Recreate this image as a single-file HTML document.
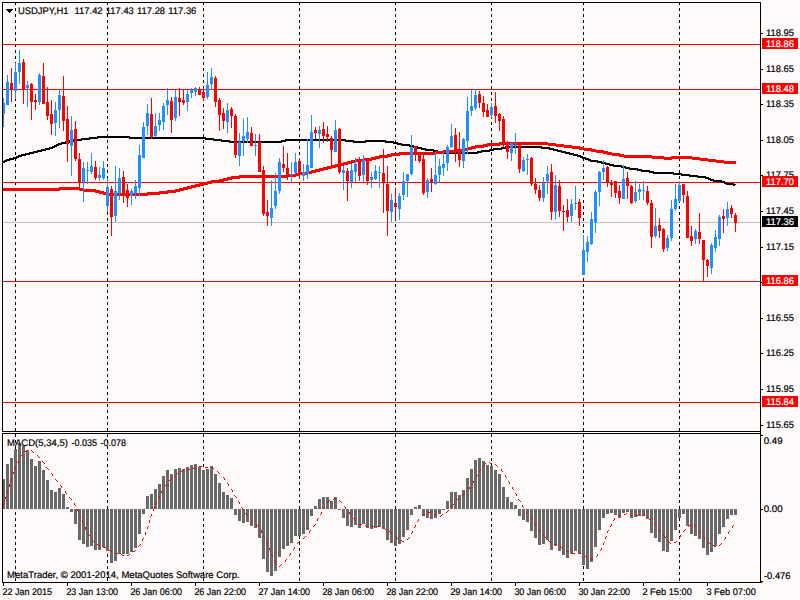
<!DOCTYPE html>
<html lang="en"><head><meta charset="utf-8"><title>USDJPY,H1</title>
<style>html,body{margin:0;padding:0;background:#FFFAFA;overflow:hidden}svg{display:block}text{font-family:"Liberation Sans", Arial, sans-serif;font-size:9.6px;fill:#000;stroke:#000;stroke-width:.2px;text-rendering:geometricPrecision}.w{fill:#fff;stroke:#fff}</style>
</head><body>
<svg width="800" height="600" viewBox="0 0 800 600">
<rect x="0" y="0" width="800" height="600" fill="#FFFAFA"/>
<g shape-rendering="crispEdges">
<rect x="2" y="432" width="759" height="1" fill="#FFFFFF"/>
<line x1="15.5" y1="2" x2="15.5" y2="431" stroke="#000" stroke-width="1" stroke-dasharray="3 3"/>
<line x1="15.5" y1="434" x2="15.5" y2="582" stroke="#000" stroke-width="1" stroke-dasharray="3 3"/>
<line x1="107.5" y1="2" x2="107.5" y2="431" stroke="#000" stroke-width="1" stroke-dasharray="3 3"/>
<line x1="107.5" y1="434" x2="107.5" y2="582" stroke="#000" stroke-width="1" stroke-dasharray="3 3"/>
<line x1="203.5" y1="2" x2="203.5" y2="431" stroke="#000" stroke-width="1" stroke-dasharray="3 3"/>
<line x1="203.5" y1="434" x2="203.5" y2="582" stroke="#000" stroke-width="1" stroke-dasharray="3 3"/>
<line x1="299.5" y1="2" x2="299.5" y2="431" stroke="#000" stroke-width="1" stroke-dasharray="3 3"/>
<line x1="299.5" y1="434" x2="299.5" y2="582" stroke="#000" stroke-width="1" stroke-dasharray="3 3"/>
<line x1="395.5" y1="2" x2="395.5" y2="431" stroke="#000" stroke-width="1" stroke-dasharray="3 3"/>
<line x1="395.5" y1="434" x2="395.5" y2="582" stroke="#000" stroke-width="1" stroke-dasharray="3 3"/>
<line x1="491.5" y1="2" x2="491.5" y2="431" stroke="#000" stroke-width="1" stroke-dasharray="3 3"/>
<line x1="491.5" y1="434" x2="491.5" y2="582" stroke="#000" stroke-width="1" stroke-dasharray="3 3"/>
<line x1="583.5" y1="2" x2="583.5" y2="431" stroke="#000" stroke-width="1" stroke-dasharray="3 3"/>
<line x1="583.5" y1="434" x2="583.5" y2="582" stroke="#000" stroke-width="1" stroke-dasharray="3 3"/>
<line x1="679.5" y1="2" x2="679.5" y2="431" stroke="#000" stroke-width="1" stroke-dasharray="3 3"/>
<line x1="679.5" y1="434" x2="679.5" y2="582" stroke="#000" stroke-width="1" stroke-dasharray="3 3"/>
<rect x="3" y="222" width="757" height="1" fill="#C0C0C0"/>
<rect x="3" y="44" width="757" height="1" fill="#FF0000"/>
<rect x="3" y="89" width="757" height="1" fill="#FF0000"/>
<rect x="3" y="182" width="757" height="1" fill="#FF0000"/>
<rect x="3" y="281" width="757" height="1" fill="#FF0000"/>
<rect x="3" y="402" width="757" height="1" fill="#FF0000"/>
<polyline points="2,162 3.5,162 7.5,160 11.5,159 15.5,158 19.5,156 23.5,155 27.5,154 31.5,153 35.5,152 39.5,151 43.5,150 47.5,149 51.5,148 55.5,146 59.5,144 63.5,143 67.5,142 71.5,141 75.5,140 79.5,140 83.5,139 87.5,139 91.5,138 95.5,138 99.5,137 103.5,137 107.5,137 111.5,137 115.5,137 119.5,137 123.5,137 127.5,137 131.5,138 135.5,138 139.5,138 143.5,138 147.5,138 151.5,138 155.5,138 159.5,138 163.5,138 167.5,138 171.5,138 175.5,138 179.5,138 183.5,138 187.5,138 191.5,138 195.5,138 199.5,138 203.5,138 207.5,139 211.5,139 215.5,140 219.5,140 223.5,141 227.5,141 231.5,142 235.5,142 239.5,142 243.5,142 247.5,142 251.5,142 255.5,142 259.5,142 263.5,142 267.5,142 271.5,142 275.5,142 279.5,142 283.5,141 287.5,140 291.5,140 295.5,140 299.5,140 303.5,140 307.5,140 311.5,140 315.5,140 319.5,140 323.5,140 327.5,140 331.5,140 335.5,140 339.5,140 343.5,140 347.5,141 351.5,141 355.5,142 359.5,142 363.5,142 367.5,141 371.5,141 375.5,141 379.5,141 383.5,141 387.5,142 391.5,142 395.5,143 399.5,144 403.5,145 407.5,145 411.5,146 415.5,147 419.5,148 423.5,149 427.5,150 431.5,150 435.5,151 439.5,152 443.5,153 447.5,153 451.5,153 455.5,153 459.5,153 463.5,153 467.5,153 471.5,153 475.5,153 479.5,152 483.5,151 487.5,151 491.5,150 495.5,149 499.5,149 503.5,148 507.5,147 511.5,147 515.5,147 519.5,147 523.5,147 527.5,147 531.5,147 535.5,147 539.5,147 543.5,148 547.5,148 551.5,149 555.5,150 559.5,151 563.5,152 567.5,153 571.5,154 575.5,155 579.5,156 583.5,158 587.5,159 591.5,161 595.5,161 599.5,162 603.5,163 607.5,164 611.5,165 615.5,166 619.5,166 623.5,167 627.5,168 631.5,169 635.5,169 639.5,170 643.5,171 647.5,171 651.5,172 655.5,173 659.5,173 663.5,173 667.5,173 671.5,173 675.5,174 679.5,174 683.5,175 687.5,175 691.5,176 695.5,176 699.5,177 703.5,177 707.5,178 711.5,180 715.5,181 719.5,181 723.5,182 727.5,184 731.5,184 735.5,185" fill="none" stroke="#000" stroke-width="2" stroke-linejoin="round" />
<polyline points="2,189 3.5,189 7.5,189 11.5,189 15.5,189 19.5,189 23.5,189 27.5,189 31.5,189 35.5,189 39.5,189 43.5,189 47.5,189 51.5,189 55.5,189 59.5,189 63.5,188 67.5,188 71.5,188 75.5,188 79.5,189 83.5,190 87.5,190 91.5,190 95.5,191 99.5,192 103.5,193 107.5,194 111.5,194 115.5,194 119.5,194 123.5,194 127.5,194 131.5,194 135.5,194 139.5,194 143.5,194 147.5,194 151.5,193 155.5,193 159.5,193 163.5,192 167.5,192 171.5,191 175.5,191 179.5,190 183.5,189 187.5,188 191.5,187 195.5,186 199.5,185 203.5,184 207.5,183 211.5,182 215.5,181 219.5,181 223.5,180 227.5,179 231.5,178 235.5,177 239.5,177 243.5,176 247.5,176 251.5,176 255.5,176 259.5,176 263.5,176 267.5,176 271.5,176 275.5,176 279.5,176 283.5,176 287.5,176 291.5,175 295.5,175 299.5,174 303.5,173 307.5,173 311.5,172 315.5,171 319.5,170 323.5,169 327.5,168 331.5,167 335.5,166 339.5,165 343.5,164 347.5,163 351.5,162 355.5,161 359.5,160 363.5,160 367.5,159 371.5,159 375.5,158 379.5,157 383.5,156 387.5,156 391.5,155 395.5,154 399.5,154 403.5,153 407.5,153 411.5,153 415.5,153 419.5,153 423.5,153 427.5,153 431.5,153 435.5,153 439.5,152 443.5,152 447.5,151 451.5,151 455.5,151 459.5,150 463.5,150 467.5,149 471.5,148 475.5,147 479.5,146 483.5,146 487.5,145 491.5,144 495.5,144 499.5,144 503.5,143 507.5,143 511.5,143 515.5,143 519.5,143 523.5,143 527.5,143 531.5,143 535.5,143 539.5,143 543.5,143 547.5,144 551.5,144 555.5,145 559.5,145 563.5,146 567.5,146 571.5,147 575.5,147 579.5,148 583.5,149 587.5,149 591.5,150 595.5,151 599.5,151 603.5,152 607.5,153 611.5,154 615.5,154 619.5,155 623.5,156 627.5,156 631.5,156 635.5,156 639.5,156 643.5,156 647.5,156 651.5,157 655.5,157 659.5,157 663.5,158 667.5,158 671.5,158 675.5,157 679.5,157 683.5,157 687.5,157 691.5,158 695.5,158 699.5,159 703.5,159 707.5,160 711.5,160 715.5,161 719.5,161 723.5,162 727.5,162 731.5,162 735.5,162" fill="none" stroke="#FF0000" stroke-width="3" stroke-linejoin="round" />
<rect x="3" y="98" width="1" height="29" fill="#1E90FF"/>
<rect x="3" y="103" width="2" height="11" fill="#1E90FF"/>
<rect x="7" y="75" width="1" height="30" fill="#1E90FF"/>
<rect x="6" y="82" width="3" height="23" fill="#1E90FF"/>
<rect x="11" y="68" width="1" height="34" fill="#FF0000"/>
<rect x="10" y="83" width="3" height="6" fill="#FF0000"/>
<rect x="15" y="63" width="1" height="36" fill="#1E90FF"/>
<rect x="14" y="72" width="3" height="19" fill="#1E90FF"/>
<rect x="19" y="50" width="1" height="34" fill="#1E90FF"/>
<rect x="18" y="63" width="3" height="9" fill="#1E90FF"/>
<rect x="23" y="59" width="1" height="45" fill="#FF0000"/>
<rect x="22" y="62" width="3" height="27" fill="#FF0000"/>
<rect x="27" y="81" width="1" height="26" fill="#1E90FF"/>
<rect x="26" y="85" width="3" height="3" fill="#1E90FF"/>
<rect x="31" y="83" width="1" height="37" fill="#FF0000"/>
<rect x="30" y="84" width="3" height="18" fill="#FF0000"/>
<rect x="35" y="94" width="1" height="16" fill="#FF0000"/>
<rect x="34" y="100" width="3" height="2" fill="#FF0000"/>
<rect x="39" y="73" width="1" height="32" fill="#1E90FF"/>
<rect x="38" y="75" width="3" height="27" fill="#1E90FF"/>
<rect x="43" y="63" width="1" height="41" fill="#FF0000"/>
<rect x="42" y="76" width="3" height="28" fill="#FF0000"/>
<rect x="47" y="87" width="1" height="33" fill="#FF0000"/>
<rect x="46" y="102" width="3" height="14" fill="#FF0000"/>
<rect x="51" y="100" width="1" height="35" fill="#FF0000"/>
<rect x="50" y="114" width="3" height="10" fill="#FF0000"/>
<rect x="55" y="102" width="1" height="34" fill="#1E90FF"/>
<rect x="54" y="110" width="3" height="13" fill="#1E90FF"/>
<rect x="59" y="90" width="1" height="38" fill="#1E90FF"/>
<rect x="58" y="95" width="3" height="15" fill="#1E90FF"/>
<rect x="63" y="76" width="1" height="55" fill="#FF0000"/>
<rect x="62" y="96" width="3" height="25" fill="#FF0000"/>
<rect x="67" y="106" width="1" height="56" fill="#FF0000"/>
<rect x="66" y="119" width="3" height="25" fill="#FF0000"/>
<rect x="71" y="116" width="1" height="60" fill="#1E90FF"/>
<rect x="70" y="130" width="3" height="16" fill="#1E90FF"/>
<rect x="75" y="121" width="1" height="40" fill="#FF0000"/>
<rect x="74" y="129" width="3" height="30" fill="#FF0000"/>
<rect x="79" y="153" width="1" height="35" fill="#FF0000"/>
<rect x="78" y="159" width="3" height="24" fill="#FF0000"/>
<rect x="83" y="162" width="1" height="40" fill="#1E90FF"/>
<rect x="82" y="168" width="3" height="14" fill="#1E90FF"/>
<rect x="87" y="162" width="1" height="22" fill="#1E90FF"/>
<rect x="86" y="170" width="3" height="1" fill="#1E90FF"/>
<rect x="91" y="153" width="1" height="21" fill="#1E90FF"/>
<rect x="90" y="166" width="3" height="6" fill="#1E90FF"/>
<rect x="95" y="161" width="1" height="19" fill="#FF0000"/>
<rect x="94" y="167" width="3" height="11" fill="#FF0000"/>
<rect x="99" y="167" width="1" height="14" fill="#1E90FF"/>
<rect x="98" y="175" width="3" height="3" fill="#1E90FF"/>
<rect x="103" y="161" width="1" height="19" fill="#1E90FF"/>
<rect x="102" y="168" width="3" height="10" fill="#1E90FF"/>
<rect x="107" y="178" width="1" height="34" fill="#1E90FF"/>
<rect x="106" y="187" width="3" height="19" fill="#1E90FF"/>
<rect x="111" y="186" width="1" height="50" fill="#FF0000"/>
<rect x="110" y="189" width="3" height="28" fill="#FF0000"/>
<rect x="115" y="166" width="1" height="56" fill="#1E90FF"/>
<rect x="114" y="191" width="3" height="25" fill="#1E90FF"/>
<rect x="119" y="168" width="1" height="32" fill="#1E90FF"/>
<rect x="118" y="178" width="3" height="15" fill="#1E90FF"/>
<rect x="123" y="171" width="1" height="32" fill="#FF0000"/>
<rect x="122" y="177" width="3" height="19" fill="#FF0000"/>
<rect x="127" y="184" width="1" height="23" fill="#FF0000"/>
<rect x="126" y="190" width="3" height="8" fill="#FF0000"/>
<rect x="131" y="189" width="1" height="16" fill="#1E90FF"/>
<rect x="130" y="191" width="3" height="5" fill="#1E90FF"/>
<rect x="135" y="180" width="1" height="19" fill="#1E90FF"/>
<rect x="134" y="186" width="3" height="7" fill="#1E90FF"/>
<rect x="139" y="145" width="1" height="51" fill="#1E90FF"/>
<rect x="138" y="155" width="3" height="33" fill="#1E90FF"/>
<rect x="143" y="122" width="1" height="36" fill="#1E90FF"/>
<rect x="142" y="127" width="3" height="31" fill="#1E90FF"/>
<rect x="147" y="104" width="1" height="31" fill="#1E90FF"/>
<rect x="146" y="113" width="3" height="13" fill="#1E90FF"/>
<rect x="151" y="98" width="1" height="41" fill="#FF0000"/>
<rect x="150" y="114" width="3" height="23" fill="#FF0000"/>
<rect x="155" y="113" width="1" height="24" fill="#1E90FF"/>
<rect x="154" y="126" width="3" height="10" fill="#1E90FF"/>
<rect x="159" y="113" width="1" height="18" fill="#1E90FF"/>
<rect x="158" y="120" width="3" height="5" fill="#1E90FF"/>
<rect x="163" y="103" width="1" height="27" fill="#1E90FF"/>
<rect x="162" y="106" width="3" height="16" fill="#1E90FF"/>
<rect x="167" y="88" width="1" height="27" fill="#1E90FF"/>
<rect x="166" y="100" width="3" height="5" fill="#1E90FF"/>
<rect x="171" y="97" width="1" height="36" fill="#FF0000"/>
<rect x="170" y="101" width="3" height="19" fill="#FF0000"/>
<rect x="175" y="90" width="1" height="31" fill="#1E90FF"/>
<rect x="174" y="97" width="3" height="21" fill="#1E90FF"/>
<rect x="179" y="88" width="1" height="28" fill="#FF0000"/>
<rect x="178" y="98" width="3" height="4" fill="#FF0000"/>
<rect x="183" y="89" width="1" height="16" fill="#FF0000"/>
<rect x="182" y="100" width="3" height="3" fill="#FF0000"/>
<rect x="187" y="90" width="1" height="21" fill="#1E90FF"/>
<rect x="186" y="94" width="3" height="8" fill="#1E90FF"/>
<rect x="191" y="88" width="1" height="10" fill="#1E90FF"/>
<rect x="190" y="90" width="3" height="3" fill="#1E90FF"/>
<rect x="195" y="87" width="1" height="9" fill="#1E90FF"/>
<rect x="194" y="88" width="3" height="4" fill="#1E90FF"/>
<rect x="199" y="87" width="1" height="8" fill="#FF0000"/>
<rect x="198" y="89" width="3" height="6" fill="#FF0000"/>
<rect x="203" y="88" width="1" height="13" fill="#FF0000"/>
<rect x="202" y="92" width="3" height="6" fill="#FF0000"/>
<rect x="207" y="72" width="1" height="27" fill="#1E90FF"/>
<rect x="206" y="85" width="3" height="12" fill="#1E90FF"/>
<rect x="211" y="68" width="1" height="22" fill="#1E90FF"/>
<rect x="210" y="77" width="3" height="7" fill="#1E90FF"/>
<rect x="215" y="76" width="1" height="31" fill="#FF0000"/>
<rect x="214" y="78" width="3" height="24" fill="#FF0000"/>
<rect x="219" y="98" width="1" height="33" fill="#FF0000"/>
<rect x="218" y="100" width="3" height="15" fill="#FF0000"/>
<rect x="223" y="108" width="1" height="21" fill="#FF0000"/>
<rect x="222" y="113" width="3" height="8" fill="#FF0000"/>
<rect x="227" y="103" width="1" height="30" fill="#1E90FF"/>
<rect x="226" y="110" width="3" height="12" fill="#1E90FF"/>
<rect x="231" y="107" width="1" height="21" fill="#FF0000"/>
<rect x="230" y="109" width="3" height="7" fill="#FF0000"/>
<rect x="235" y="114" width="1" height="44" fill="#FF0000"/>
<rect x="234" y="116" width="3" height="39" fill="#FF0000"/>
<rect x="239" y="133" width="1" height="33" fill="#1E90FF"/>
<rect x="238" y="142" width="3" height="14" fill="#1E90FF"/>
<rect x="243" y="119" width="1" height="37" fill="#1E90FF"/>
<rect x="242" y="136" width="3" height="5" fill="#1E90FF"/>
<rect x="247" y="117" width="1" height="26" fill="#1E90FF"/>
<rect x="246" y="132" width="3" height="7" fill="#1E90FF"/>
<rect x="251" y="127" width="1" height="19" fill="#FF0000"/>
<rect x="250" y="133" width="3" height="13" fill="#FF0000"/>
<rect x="255" y="134" width="1" height="22" fill="#1E90FF"/>
<rect x="254" y="145" width="3" height="1" fill="#1E90FF"/>
<rect x="259" y="134" width="1" height="38" fill="#FF0000"/>
<rect x="258" y="142" width="3" height="30" fill="#FF0000"/>
<rect x="263" y="166" width="1" height="50" fill="#FF0000"/>
<rect x="262" y="170" width="3" height="44" fill="#FF0000"/>
<rect x="267" y="200" width="1" height="26" fill="#FF0000"/>
<rect x="266" y="212" width="3" height="4" fill="#FF0000"/>
<rect x="271" y="180" width="1" height="46" fill="#1E90FF"/>
<rect x="270" y="208" width="3" height="10" fill="#1E90FF"/>
<rect x="275" y="173" width="1" height="36" fill="#1E90FF"/>
<rect x="274" y="191" width="3" height="15" fill="#1E90FF"/>
<rect x="279" y="158" width="1" height="36" fill="#1E90FF"/>
<rect x="278" y="162" width="3" height="29" fill="#1E90FF"/>
<rect x="283" y="146" width="1" height="26" fill="#FF0000"/>
<rect x="282" y="164" width="3" height="4" fill="#FF0000"/>
<rect x="287" y="153" width="1" height="27" fill="#FF0000"/>
<rect x="286" y="168" width="3" height="8" fill="#FF0000"/>
<rect x="291" y="162" width="1" height="20" fill="#1E90FF"/>
<rect x="290" y="174" width="3" height="1" fill="#1E90FF"/>
<rect x="295" y="153" width="1" height="21" fill="#1E90FF"/>
<rect x="294" y="162" width="3" height="11" fill="#1E90FF"/>
<rect x="299" y="158" width="1" height="21" fill="#FF0000"/>
<rect x="298" y="161" width="3" height="13" fill="#FF0000"/>
<rect x="303" y="164" width="1" height="17" fill="#1E90FF"/>
<rect x="302" y="172" width="3" height="4" fill="#1E90FF"/>
<rect x="307" y="139" width="1" height="40" fill="#1E90FF"/>
<rect x="306" y="165" width="3" height="9" fill="#1E90FF"/>
<rect x="311" y="115" width="1" height="53" fill="#1E90FF"/>
<rect x="310" y="132" width="3" height="36" fill="#1E90FF"/>
<rect x="315" y="127" width="1" height="12" fill="#FF0000"/>
<rect x="314" y="130" width="3" height="3" fill="#FF0000"/>
<rect x="319" y="126" width="1" height="22" fill="#1E90FF"/>
<rect x="318" y="130" width="3" height="4" fill="#1E90FF"/>
<rect x="323" y="122" width="1" height="21" fill="#FF0000"/>
<rect x="322" y="129" width="3" height="7" fill="#FF0000"/>
<rect x="327" y="126" width="1" height="16" fill="#FF0000"/>
<rect x="326" y="134" width="3" height="3" fill="#FF0000"/>
<rect x="331" y="136" width="1" height="29" fill="#FF0000"/>
<rect x="330" y="138" width="3" height="12" fill="#FF0000"/>
<rect x="335" y="120" width="1" height="32" fill="#1E90FF"/>
<rect x="334" y="130" width="3" height="22" fill="#1E90FF"/>
<rect x="339" y="128" width="1" height="46" fill="#FF0000"/>
<rect x="338" y="129" width="3" height="43" fill="#FF0000"/>
<rect x="343" y="166" width="1" height="24" fill="#1E90FF"/>
<rect x="342" y="170" width="3" height="3" fill="#1E90FF"/>
<rect x="347" y="168" width="1" height="33" fill="#FF0000"/>
<rect x="346" y="171" width="3" height="10" fill="#FF0000"/>
<rect x="351" y="164" width="1" height="24" fill="#1E90FF"/>
<rect x="350" y="170" width="3" height="12" fill="#1E90FF"/>
<rect x="355" y="158" width="1" height="24" fill="#1E90FF"/>
<rect x="354" y="164" width="3" height="8" fill="#1E90FF"/>
<rect x="359" y="157" width="1" height="24" fill="#FF0000"/>
<rect x="358" y="159" width="3" height="17" fill="#FF0000"/>
<rect x="363" y="155" width="1" height="27" fill="#1E90FF"/>
<rect x="362" y="160" width="3" height="15" fill="#1E90FF"/>
<rect x="367" y="158" width="1" height="27" fill="#FF0000"/>
<rect x="366" y="159" width="3" height="22" fill="#FF0000"/>
<rect x="371" y="172" width="1" height="16" fill="#1E90FF"/>
<rect x="370" y="177" width="3" height="3" fill="#1E90FF"/>
<rect x="375" y="165" width="1" height="15" fill="#1E90FF"/>
<rect x="374" y="171" width="3" height="8" fill="#1E90FF"/>
<rect x="379" y="166" width="1" height="22" fill="#1E90FF"/>
<rect x="378" y="172" width="3" height="1" fill="#1E90FF"/>
<rect x="383" y="149" width="1" height="64" fill="#FF0000"/>
<rect x="382" y="173" width="3" height="10" fill="#FF0000"/>
<rect x="387" y="166" width="1" height="70" fill="#FF0000"/>
<rect x="386" y="184" width="3" height="27" fill="#FF0000"/>
<rect x="391" y="194" width="1" height="28" fill="#1E90FF"/>
<rect x="390" y="200" width="3" height="12" fill="#1E90FF"/>
<rect x="395" y="189" width="1" height="31" fill="#FF0000"/>
<rect x="394" y="203" width="3" height="4" fill="#FF0000"/>
<rect x="399" y="193" width="1" height="27" fill="#1E90FF"/>
<rect x="398" y="196" width="3" height="13" fill="#1E90FF"/>
<rect x="403" y="172" width="1" height="28" fill="#1E90FF"/>
<rect x="402" y="181" width="3" height="14" fill="#1E90FF"/>
<rect x="407" y="174" width="1" height="23" fill="#1E90FF"/>
<rect x="406" y="174" width="3" height="7" fill="#1E90FF"/>
<rect x="411" y="135" width="1" height="40" fill="#1E90FF"/>
<rect x="410" y="147" width="3" height="27" fill="#1E90FF"/>
<rect x="415" y="146" width="1" height="15" fill="#FF0000"/>
<rect x="414" y="146" width="3" height="8" fill="#FF0000"/>
<rect x="419" y="154" width="1" height="9" fill="#FF0000"/>
<rect x="418" y="155" width="3" height="6" fill="#FF0000"/>
<rect x="423" y="155" width="1" height="40" fill="#FF0000"/>
<rect x="422" y="159" width="3" height="34" fill="#FF0000"/>
<rect x="427" y="178" width="1" height="20" fill="#1E90FF"/>
<rect x="426" y="180" width="3" height="12" fill="#1E90FF"/>
<rect x="431" y="168" width="1" height="24" fill="#FF0000"/>
<rect x="430" y="179" width="3" height="3" fill="#FF0000"/>
<rect x="435" y="152" width="1" height="33" fill="#1E90FF"/>
<rect x="434" y="175" width="3" height="9" fill="#1E90FF"/>
<rect x="439" y="159" width="1" height="23" fill="#1E90FF"/>
<rect x="438" y="166" width="3" height="9" fill="#1E90FF"/>
<rect x="443" y="152" width="1" height="24" fill="#1E90FF"/>
<rect x="442" y="164" width="3" height="4" fill="#1E90FF"/>
<rect x="447" y="145" width="1" height="26" fill="#1E90FF"/>
<rect x="446" y="147" width="3" height="16" fill="#1E90FF"/>
<rect x="451" y="124" width="1" height="24" fill="#1E90FF"/>
<rect x="450" y="136" width="3" height="11" fill="#1E90FF"/>
<rect x="455" y="128" width="1" height="34" fill="#FF0000"/>
<rect x="454" y="135" width="3" height="16" fill="#FF0000"/>
<rect x="459" y="132" width="1" height="35" fill="#FF0000"/>
<rect x="458" y="152" width="3" height="8" fill="#FF0000"/>
<rect x="463" y="138" width="1" height="30" fill="#1E90FF"/>
<rect x="462" y="139" width="3" height="22" fill="#1E90FF"/>
<rect x="467" y="97" width="1" height="57" fill="#1E90FF"/>
<rect x="466" y="111" width="3" height="30" fill="#1E90FF"/>
<rect x="471" y="90" width="1" height="26" fill="#1E90FF"/>
<rect x="470" y="106" width="3" height="5" fill="#1E90FF"/>
<rect x="475" y="89" width="1" height="21" fill="#1E90FF"/>
<rect x="474" y="95" width="3" height="13" fill="#1E90FF"/>
<rect x="479" y="91" width="1" height="17" fill="#FF0000"/>
<rect x="478" y="94" width="3" height="9" fill="#FF0000"/>
<rect x="483" y="96" width="1" height="21" fill="#FF0000"/>
<rect x="482" y="103" width="3" height="9" fill="#FF0000"/>
<rect x="487" y="104" width="1" height="13" fill="#FF0000"/>
<rect x="486" y="110" width="3" height="7" fill="#FF0000"/>
<rect x="491" y="103" width="1" height="15" fill="#1E90FF"/>
<rect x="490" y="107" width="3" height="8" fill="#1E90FF"/>
<rect x="495" y="92" width="1" height="31" fill="#FF0000"/>
<rect x="494" y="106" width="3" height="10" fill="#FF0000"/>
<rect x="499" y="113" width="1" height="18" fill="#FF0000"/>
<rect x="498" y="114" width="3" height="7" fill="#FF0000"/>
<rect x="503" y="116" width="1" height="31" fill="#FF0000"/>
<rect x="502" y="119" width="3" height="23" fill="#FF0000"/>
<rect x="507" y="141" width="1" height="18" fill="#FF0000"/>
<rect x="506" y="142" width="3" height="10" fill="#FF0000"/>
<rect x="511" y="143" width="1" height="18" fill="#1E90FF"/>
<rect x="510" y="143" width="3" height="10" fill="#1E90FF"/>
<rect x="515" y="133" width="1" height="21" fill="#1E90FF"/>
<rect x="514" y="145" width="3" height="1" fill="#1E90FF"/>
<rect x="519" y="142" width="1" height="31" fill="#FF0000"/>
<rect x="518" y="143" width="3" height="26" fill="#FF0000"/>
<rect x="523" y="157" width="1" height="15" fill="#1E90FF"/>
<rect x="522" y="160" width="3" height="11" fill="#1E90FF"/>
<rect x="527" y="154" width="1" height="21" fill="#1E90FF"/>
<rect x="526" y="159" width="3" height="1" fill="#1E90FF"/>
<rect x="531" y="157" width="1" height="29" fill="#FF0000"/>
<rect x="530" y="158" width="3" height="26" fill="#FF0000"/>
<rect x="535" y="178" width="1" height="16" fill="#FF0000"/>
<rect x="534" y="184" width="3" height="6" fill="#FF0000"/>
<rect x="539" y="185" width="1" height="16" fill="#FF0000"/>
<rect x="538" y="190" width="3" height="8" fill="#FF0000"/>
<rect x="543" y="177" width="1" height="25" fill="#1E90FF"/>
<rect x="542" y="183" width="3" height="15" fill="#1E90FF"/>
<rect x="547" y="166" width="1" height="28" fill="#1E90FF"/>
<rect x="546" y="174" width="3" height="7" fill="#1E90FF"/>
<rect x="551" y="164" width="1" height="56" fill="#FF0000"/>
<rect x="550" y="172" width="3" height="40" fill="#FF0000"/>
<rect x="555" y="175" width="1" height="45" fill="#1E90FF"/>
<rect x="554" y="185" width="3" height="27" fill="#1E90FF"/>
<rect x="559" y="180" width="1" height="37" fill="#FF0000"/>
<rect x="558" y="186" width="3" height="25" fill="#FF0000"/>
<rect x="563" y="205" width="1" height="26" fill="#FF0000"/>
<rect x="562" y="211" width="3" height="1" fill="#FF0000"/>
<rect x="567" y="199" width="1" height="23" fill="#FF0000"/>
<rect x="566" y="210" width="3" height="7" fill="#FF0000"/>
<rect x="571" y="199" width="1" height="23" fill="#1E90FF"/>
<rect x="570" y="204" width="3" height="12" fill="#1E90FF"/>
<rect x="575" y="186" width="1" height="24" fill="#1E90FF"/>
<rect x="574" y="203" width="3" height="1" fill="#1E90FF"/>
<rect x="579" y="199" width="1" height="27" fill="#FF0000"/>
<rect x="578" y="202" width="3" height="16" fill="#FF0000"/>
<rect x="583" y="235" width="1" height="40" fill="#1E90FF"/>
<rect x="582" y="250" width="3" height="25" fill="#1E90FF"/>
<rect x="587" y="236" width="1" height="26" fill="#1E90FF"/>
<rect x="586" y="242" width="3" height="10" fill="#1E90FF"/>
<rect x="591" y="212" width="1" height="33" fill="#1E90FF"/>
<rect x="590" y="219" width="3" height="25" fill="#1E90FF"/>
<rect x="595" y="190" width="1" height="43" fill="#1E90FF"/>
<rect x="594" y="192" width="3" height="30" fill="#1E90FF"/>
<rect x="599" y="171" width="1" height="35" fill="#1E90FF"/>
<rect x="598" y="172" width="3" height="20" fill="#1E90FF"/>
<rect x="603" y="160" width="1" height="20" fill="#1E90FF"/>
<rect x="602" y="168" width="3" height="4" fill="#1E90FF"/>
<rect x="607" y="166" width="1" height="21" fill="#FF0000"/>
<rect x="606" y="167" width="3" height="15" fill="#FF0000"/>
<rect x="611" y="180" width="1" height="17" fill="#FF0000"/>
<rect x="610" y="182" width="3" height="3" fill="#FF0000"/>
<rect x="615" y="181" width="1" height="17" fill="#FF0000"/>
<rect x="614" y="181" width="3" height="12" fill="#FF0000"/>
<rect x="619" y="185" width="1" height="19" fill="#FF0000"/>
<rect x="618" y="191" width="3" height="7" fill="#FF0000"/>
<rect x="623" y="165" width="1" height="34" fill="#1E90FF"/>
<rect x="622" y="179" width="3" height="20" fill="#1E90FF"/>
<rect x="627" y="172" width="1" height="27" fill="#FF0000"/>
<rect x="626" y="178" width="3" height="8" fill="#FF0000"/>
<rect x="631" y="185" width="1" height="19" fill="#FF0000"/>
<rect x="630" y="186" width="3" height="17" fill="#FF0000"/>
<rect x="635" y="181" width="1" height="22" fill="#1E90FF"/>
<rect x="634" y="192" width="3" height="9" fill="#1E90FF"/>
<rect x="639" y="184" width="1" height="16" fill="#1E90FF"/>
<rect x="638" y="189" width="3" height="3" fill="#1E90FF"/>
<rect x="643" y="181" width="1" height="19" fill="#1E90FF"/>
<rect x="642" y="190" width="3" height="1" fill="#1E90FF"/>
<rect x="647" y="186" width="1" height="19" fill="#FF0000"/>
<rect x="646" y="191" width="3" height="12" fill="#FF0000"/>
<rect x="651" y="200" width="1" height="48" fill="#FF0000"/>
<rect x="650" y="203" width="3" height="34" fill="#FF0000"/>
<rect x="655" y="208" width="1" height="30" fill="#1E90FF"/>
<rect x="654" y="226" width="3" height="10" fill="#1E90FF"/>
<rect x="659" y="218" width="1" height="20" fill="#FF0000"/>
<rect x="658" y="225" width="3" height="6" fill="#FF0000"/>
<rect x="663" y="228" width="1" height="24" fill="#FF0000"/>
<rect x="662" y="229" width="3" height="20" fill="#FF0000"/>
<rect x="667" y="235" width="1" height="16" fill="#1E90FF"/>
<rect x="666" y="238" width="3" height="10" fill="#1E90FF"/>
<rect x="671" y="200" width="1" height="41" fill="#1E90FF"/>
<rect x="670" y="209" width="3" height="29" fill="#1E90FF"/>
<rect x="675" y="184" width="1" height="27" fill="#1E90FF"/>
<rect x="674" y="199" width="3" height="10" fill="#1E90FF"/>
<rect x="679" y="181" width="1" height="21" fill="#1E90FF"/>
<rect x="678" y="185" width="3" height="16" fill="#1E90FF"/>
<rect x="683" y="184" width="1" height="19" fill="#FF0000"/>
<rect x="682" y="184" width="3" height="11" fill="#FF0000"/>
<rect x="687" y="191" width="1" height="47" fill="#FF0000"/>
<rect x="686" y="196" width="3" height="42" fill="#FF0000"/>
<rect x="691" y="226" width="1" height="20" fill="#FF0000"/>
<rect x="690" y="236" width="3" height="5" fill="#FF0000"/>
<rect x="695" y="229" width="1" height="15" fill="#1E90FF"/>
<rect x="694" y="231" width="3" height="8" fill="#1E90FF"/>
<rect x="699" y="213" width="1" height="31" fill="#FF0000"/>
<rect x="698" y="232" width="3" height="7" fill="#FF0000"/>
<rect x="703" y="240" width="1" height="42" fill="#FF0000"/>
<rect x="702" y="240" width="3" height="20" fill="#FF0000"/>
<rect x="707" y="259" width="1" height="18" fill="#FF0000"/>
<rect x="706" y="260" width="3" height="6" fill="#FF0000"/>
<rect x="711" y="243" width="1" height="31" fill="#1E90FF"/>
<rect x="710" y="245" width="3" height="23" fill="#1E90FF"/>
<rect x="715" y="230" width="1" height="22" fill="#1E90FF"/>
<rect x="714" y="237" width="3" height="11" fill="#1E90FF"/>
<rect x="719" y="215" width="1" height="31" fill="#1E90FF"/>
<rect x="718" y="217" width="3" height="22" fill="#1E90FF"/>
<rect x="723" y="209" width="1" height="24" fill="#FF0000"/>
<rect x="722" y="216" width="3" height="3" fill="#FF0000"/>
<rect x="727" y="202" width="1" height="24" fill="#1E90FF"/>
<rect x="726" y="209" width="3" height="9" fill="#1E90FF"/>
<rect x="731" y="205" width="1" height="13" fill="#FF0000"/>
<rect x="730" y="208" width="3" height="6" fill="#FF0000"/>
<rect x="735" y="213" width="1" height="19" fill="#FF0000"/>
<rect x="734" y="215" width="3" height="8" fill="#FF0000"/>
</g>
<g shape-rendering="crispEdges">
<rect x="3" y="479" width="2" height="30" fill="#696969"/>
<rect x="6" y="464" width="3" height="45" fill="#696969"/>
<rect x="10" y="458" width="3" height="51" fill="#696969"/>
<rect x="14" y="449" width="3" height="60" fill="#696969"/>
<rect x="18" y="444" width="3" height="65" fill="#696969"/>
<rect x="22" y="446" width="3" height="63" fill="#696969"/>
<rect x="26" y="450" width="3" height="59" fill="#696969"/>
<rect x="30" y="459" width="3" height="50" fill="#696969"/>
<rect x="34" y="466" width="3" height="43" fill="#696969"/>
<rect x="38" y="461" width="3" height="48" fill="#696969"/>
<rect x="42" y="470" width="3" height="39" fill="#696969"/>
<rect x="46" y="480" width="3" height="29" fill="#696969"/>
<rect x="50" y="490" width="3" height="19" fill="#696969"/>
<rect x="54" y="492" width="3" height="17" fill="#696969"/>
<rect x="58" y="488" width="3" height="21" fill="#696969"/>
<rect x="62" y="494" width="3" height="15" fill="#696969"/>
<rect x="66" y="507" width="3" height="2" fill="#696969"/>
<rect x="70" y="509" width="3" height="3" fill="#696969"/>
<rect x="74" y="509" width="3" height="15" fill="#696969"/>
<rect x="78" y="509" width="3" height="31" fill="#696969"/>
<rect x="82" y="509" width="3" height="35" fill="#696969"/>
<rect x="86" y="509" width="3" height="38" fill="#696969"/>
<rect x="90" y="509" width="3" height="37" fill="#696969"/>
<rect x="94" y="509" width="3" height="41" fill="#696969"/>
<rect x="98" y="509" width="3" height="41" fill="#696969"/>
<rect x="102" y="509" width="3" height="38" fill="#696969"/>
<rect x="106" y="509" width="3" height="42" fill="#696969"/>
<rect x="110" y="509" width="3" height="54" fill="#696969"/>
<rect x="114" y="509" width="3" height="52" fill="#696969"/>
<rect x="118" y="509" width="3" height="45" fill="#696969"/>
<rect x="122" y="509" width="3" height="45" fill="#696969"/>
<rect x="126" y="509" width="3" height="45" fill="#696969"/>
<rect x="130" y="509" width="3" height="43" fill="#696969"/>
<rect x="134" y="509" width="3" height="39" fill="#696969"/>
<rect x="138" y="509" width="3" height="25" fill="#696969"/>
<rect x="142" y="509" width="3" height="5" fill="#696969"/>
<rect x="146" y="496" width="3" height="13" fill="#696969"/>
<rect x="150" y="494" width="3" height="15" fill="#696969"/>
<rect x="154" y="489" width="3" height="20" fill="#696969"/>
<rect x="158" y="484" width="3" height="25" fill="#696969"/>
<rect x="162" y="476" width="3" height="33" fill="#696969"/>
<rect x="166" y="470" width="3" height="39" fill="#696969"/>
<rect x="170" y="474" width="3" height="35" fill="#696969"/>
<rect x="174" y="469" width="3" height="40" fill="#696969"/>
<rect x="178" y="468" width="3" height="41" fill="#696969"/>
<rect x="182" y="469" width="3" height="40" fill="#696969"/>
<rect x="186" y="467" width="3" height="42" fill="#696969"/>
<rect x="190" y="465" width="3" height="44" fill="#696969"/>
<rect x="194" y="464" width="3" height="45" fill="#696969"/>
<rect x="198" y="467" width="3" height="42" fill="#696969"/>
<rect x="202" y="470" width="3" height="39" fill="#696969"/>
<rect x="206" y="469" width="3" height="40" fill="#696969"/>
<rect x="210" y="466" width="3" height="43" fill="#696969"/>
<rect x="214" y="474" width="3" height="35" fill="#696969"/>
<rect x="218" y="483" width="3" height="26" fill="#696969"/>
<rect x="222" y="492" width="3" height="17" fill="#696969"/>
<rect x="226" y="495" width="3" height="14" fill="#696969"/>
<rect x="230" y="498" width="3" height="11" fill="#696969"/>
<rect x="234" y="509" width="3" height="6" fill="#696969"/>
<rect x="238" y="509" width="3" height="12" fill="#696969"/>
<rect x="242" y="509" width="3" height="14" fill="#696969"/>
<rect x="246" y="509" width="3" height="13" fill="#696969"/>
<rect x="250" y="509" width="3" height="17" fill="#696969"/>
<rect x="254" y="509" width="3" height="19" fill="#696969"/>
<rect x="258" y="509" width="3" height="29" fill="#696969"/>
<rect x="262" y="509" width="3" height="50" fill="#696969"/>
<rect x="266" y="509" width="3" height="63" fill="#696969"/>
<rect x="270" y="509" width="3" height="67" fill="#696969"/>
<rect x="274" y="509" width="3" height="62" fill="#696969"/>
<rect x="278" y="509" width="3" height="48" fill="#696969"/>
<rect x="282" y="509" width="3" height="40" fill="#696969"/>
<rect x="286" y="509" width="3" height="37" fill="#696969"/>
<rect x="290" y="509" width="3" height="34" fill="#696969"/>
<rect x="294" y="509" width="3" height="27" fill="#696969"/>
<rect x="298" y="509" width="3" height="27" fill="#696969"/>
<rect x="302" y="509" width="3" height="25" fill="#696969"/>
<rect x="306" y="509" width="3" height="21" fill="#696969"/>
<rect x="310" y="509" width="3" height="7" fill="#696969"/>
<rect x="314" y="506" width="3" height="3" fill="#696969"/>
<rect x="318" y="499" width="3" height="10" fill="#696969"/>
<rect x="322" y="497" width="3" height="12" fill="#696969"/>
<rect x="326" y="497" width="3" height="12" fill="#696969"/>
<rect x="330" y="501" width="3" height="8" fill="#696969"/>
<rect x="334" y="497" width="3" height="12" fill="#696969"/>
<rect x="338" y="509" width="3" height="1" fill="#696969"/>
<rect x="342" y="509" width="3" height="9" fill="#696969"/>
<rect x="346" y="509" width="3" height="17" fill="#696969"/>
<rect x="350" y="509" width="3" height="18" fill="#696969"/>
<rect x="354" y="509" width="3" height="16" fill="#696969"/>
<rect x="358" y="509" width="3" height="19" fill="#696969"/>
<rect x="362" y="509" width="3" height="15" fill="#696969"/>
<rect x="366" y="509" width="3" height="19" fill="#696969"/>
<rect x="370" y="509" width="3" height="20" fill="#696969"/>
<rect x="374" y="509" width="3" height="19" fill="#696969"/>
<rect x="378" y="509" width="3" height="18" fill="#696969"/>
<rect x="382" y="509" width="3" height="20" fill="#696969"/>
<rect x="386" y="509" width="3" height="31" fill="#696969"/>
<rect x="390" y="509" width="3" height="34" fill="#696969"/>
<rect x="394" y="509" width="3" height="37" fill="#696969"/>
<rect x="398" y="509" width="3" height="35" fill="#696969"/>
<rect x="402" y="509" width="3" height="28" fill="#696969"/>
<rect x="406" y="509" width="3" height="21" fill="#696969"/>
<rect x="410" y="509" width="3" height="6" fill="#696969"/>
<rect x="414" y="507" width="3" height="2" fill="#696969"/>
<rect x="418" y="505" width="3" height="4" fill="#696969"/>
<rect x="422" y="509" width="3" height="7" fill="#696969"/>
<rect x="426" y="509" width="3" height="9" fill="#696969"/>
<rect x="430" y="509" width="3" height="10" fill="#696969"/>
<rect x="434" y="509" width="3" height="9" fill="#696969"/>
<rect x="438" y="509" width="3" height="5" fill="#696969"/>
<rect x="442" y="509" width="3" height="1" fill="#696969"/>
<rect x="446" y="501" width="3" height="8" fill="#696969"/>
<rect x="450" y="492" width="3" height="17" fill="#696969"/>
<rect x="454" y="492" width="3" height="17" fill="#696969"/>
<rect x="458" y="495" width="3" height="14" fill="#696969"/>
<rect x="462" y="490" width="3" height="19" fill="#696969"/>
<rect x="466" y="478" width="3" height="31" fill="#696969"/>
<rect x="470" y="469" width="3" height="40" fill="#696969"/>
<rect x="474" y="460" width="3" height="49" fill="#696969"/>
<rect x="478" y="458" width="3" height="51" fill="#696969"/>
<rect x="482" y="461" width="3" height="48" fill="#696969"/>
<rect x="486" y="465" width="3" height="44" fill="#696969"/>
<rect x="490" y="466" width="3" height="43" fill="#696969"/>
<rect x="494" y="470" width="3" height="39" fill="#696969"/>
<rect x="498" y="474" width="3" height="35" fill="#696969"/>
<rect x="502" y="487" width="3" height="22" fill="#696969"/>
<rect x="506" y="497" width="3" height="12" fill="#696969"/>
<rect x="510" y="502" width="3" height="7" fill="#696969"/>
<rect x="514" y="505" width="3" height="4" fill="#696969"/>
<rect x="518" y="509" width="3" height="7" fill="#696969"/>
<rect x="522" y="509" width="3" height="11" fill="#696969"/>
<rect x="526" y="509" width="3" height="13" fill="#696969"/>
<rect x="530" y="509" width="3" height="22" fill="#696969"/>
<rect x="534" y="509" width="3" height="29" fill="#696969"/>
<rect x="538" y="509" width="3" height="36" fill="#696969"/>
<rect x="542" y="509" width="3" height="35" fill="#696969"/>
<rect x="546" y="509" width="3" height="31" fill="#696969"/>
<rect x="550" y="509" width="3" height="41" fill="#696969"/>
<rect x="554" y="509" width="3" height="37" fill="#696969"/>
<rect x="558" y="509" width="3" height="42" fill="#696969"/>
<rect x="562" y="509" width="3" height="46" fill="#696969"/>
<rect x="566" y="509" width="3" height="49" fill="#696969"/>
<rect x="570" y="509" width="3" height="45" fill="#696969"/>
<rect x="574" y="509" width="3" height="42" fill="#696969"/>
<rect x="578" y="509" width="3" height="44" fill="#696969"/>
<rect x="582" y="509" width="3" height="56" fill="#696969"/>
<rect x="586" y="509" width="3" height="60" fill="#696969"/>
<rect x="590" y="509" width="3" height="53" fill="#696969"/>
<rect x="594" y="509" width="3" height="38" fill="#696969"/>
<rect x="598" y="509" width="3" height="21" fill="#696969"/>
<rect x="602" y="509" width="3" height="9" fill="#696969"/>
<rect x="606" y="509" width="3" height="5" fill="#696969"/>
<rect x="610" y="509" width="3" height="4" fill="#696969"/>
<rect x="614" y="509" width="3" height="6" fill="#696969"/>
<rect x="618" y="509" width="3" height="9" fill="#696969"/>
<rect x="622" y="509" width="3" height="4" fill="#696969"/>
<rect x="626" y="509" width="3" height="3" fill="#696969"/>
<rect x="630" y="509" width="3" height="9" fill="#696969"/>
<rect x="634" y="509" width="3" height="8" fill="#696969"/>
<rect x="638" y="509" width="3" height="7" fill="#696969"/>
<rect x="642" y="509" width="3" height="6" fill="#696969"/>
<rect x="646" y="509" width="3" height="10" fill="#696969"/>
<rect x="650" y="509" width="3" height="24" fill="#696969"/>
<rect x="654" y="509" width="3" height="29" fill="#696969"/>
<rect x="658" y="509" width="3" height="33" fill="#696969"/>
<rect x="662" y="509" width="3" height="42" fill="#696969"/>
<rect x="666" y="509" width="3" height="43" fill="#696969"/>
<rect x="670" y="509" width="3" height="32" fill="#696969"/>
<rect x="674" y="509" width="3" height="21" fill="#696969"/>
<rect x="678" y="509" width="3" height="9" fill="#696969"/>
<rect x="682" y="509" width="3" height="5" fill="#696969"/>
<rect x="686" y="509" width="3" height="17" fill="#696969"/>
<rect x="690" y="509" width="3" height="25" fill="#696969"/>
<rect x="694" y="509" width="3" height="27" fill="#696969"/>
<rect x="698" y="509" width="3" height="30" fill="#696969"/>
<rect x="702" y="509" width="3" height="39" fill="#696969"/>
<rect x="706" y="509" width="3" height="46" fill="#696969"/>
<rect x="710" y="509" width="3" height="43" fill="#696969"/>
<rect x="714" y="509" width="3" height="37" fill="#696969"/>
<rect x="718" y="509" width="3" height="25" fill="#696969"/>
<rect x="722" y="509" width="3" height="18" fill="#696969"/>
<rect x="726" y="509" width="3" height="10" fill="#696969"/>
<rect x="730" y="509" width="3" height="6" fill="#696969"/>
<rect x="734" y="509" width="3" height="6" fill="#696969"/>
</g>
<path d="M3 504h1v1h-1zM3 503h1v1h-1zM4 502h1v1h-1zM5 498h1v1h-1zM5 497h1v1h-1zM6 496h1v1h-1zM7 492h1v1h-1zM7 491h1v1h-1zM8 490h1v1h-1zM9 486h1v1h-1zM9 485h1v1h-1zM9 484h1v1h-1zM10 480h1v1h-1zM11 479h1v1h-1zM11 478h1v1h-1zM12 474h1v1h-1zM13 473h1v1h-1zM13 472h1v1h-1zM15 468h1v1h-1zM15 467h1v1h-1zM15 466h1v1h-1zM17 462h1v1h-1zM18 461h1v1h-1zM18 460h1v1h-1zM20 456h1v1h-1zM21 455h1v1h-1zM22 454h1v1h-1zM25 451h1v1h-1zM26 450h1v1h-1zM27 450h1v1h-1zM31 450h1v1h-1zM32 451h1v1h-1zM33 452h1v1h-1zM37 455h1v1h-1zM38 456h1v1h-1zM39 457h1v1h-1zM42 461h1v1h-1zM43 462h1v1h-1zM44 463h1v1h-1zM46 467h1v1h-1zM47 468h1v1h-1zM48 469h1v1h-1zM51 473h1v1h-1zM52 474h1v1h-1zM52 475h1v1h-1zM55 479h1v1h-1zM56 480h1v1h-1zM57 481h1v1h-1zM60 485h1v1h-1zM61 486h1v1h-1zM61 487h1v1h-1zM65 491h1v1h-1zM65 492h1v1h-1zM66 493h1v1h-1zM69 497h1v1h-1zM70 498h1v1h-1zM71 499h1v1h-1zM74 503h1v1h-1zM74 504h1v1h-1zM75 505h1v1h-1zM77 509h1v1h-1zM77 510h1v1h-1zM78 511h1v1h-1zM79 515h1v1h-1zM80 516h1v1h-1zM80 517h1v1h-1zM82 521h1v1h-1zM82 522h1v1h-1zM83 523h1v1h-1zM85 527h1v1h-1zM85 528h1v1h-1zM85 529h1v1h-1zM88 533h1v1h-1zM88 534h1v1h-1zM89 535h1v1h-1zM91 539h1v1h-1zM92 540h1v1h-1zM93 541h1v1h-1zM97 544h1v1h-1zM98 545h1v1h-1zM99 545h1v1h-1zM103 547h1v1h-1zM104 547h1v1h-1zM105 547h1v1h-1zM109 550h1v1h-1zM110 550h1v1h-1zM111 551h1v1h-1zM115 553h1v1h-1zM116 553h1v1h-1zM117 553h1v1h-1zM121 554h1v1h-1zM122 555h1v1h-1zM123 555h1v1h-1zM127 555h1v1h-1zM128 555h1v1h-1zM129 554h1v1h-1zM133 551h1v1h-1zM134 551h1v1h-1zM135 550h1v1h-1zM138 546h1v1h-1zM139 545h1v1h-1zM140 544h1v1h-1zM142 540h1v1h-1zM142 539h1v1h-1zM143 538h1v1h-1zM145 534h1v1h-1zM145 533h1v1h-1zM145 532h1v1h-1zM147 528h1v1h-1zM147 527h1v1h-1zM148 526h1v1h-1zM149 522h1v1h-1zM149 521h1v1h-1zM149 520h1v1h-1zM150 516h1v1h-1zM151 515h1v1h-1zM151 514h1v1h-1zM153 510h1v1h-1zM153 509h1v1h-1zM154 508h1v1h-1zM155 504h1v1h-1zM156 503h1v1h-1zM156 502h1v1h-1zM158 498h1v1h-1zM159 497h1v1h-1zM159 496h1v1h-1zM161 492h1v1h-1zM161 491h1v1h-1zM162 490h1v1h-1zM164 486h1v1h-1zM165 485h1v1h-1zM166 484h1v1h-1zM169 480h1v1h-1zM170 479h1v1h-1zM171 478h1v1h-1zM175 475h1v1h-1zM176 474h1v1h-1zM177 473h1v1h-1zM181 471h1v1h-1zM182 470h1v1h-1zM183 470h1v1h-1zM187 469h1v1h-1zM188 469h1v1h-1zM189 469h1v1h-1zM193 468h1v1h-1zM194 467h1v1h-1zM195 467h1v1h-1zM199 466h1v1h-1zM200 466h1v1h-1zM201 466h1v1h-1zM205 467h1v1h-1zM206 467h1v1h-1zM207 467h1v1h-1zM211 467h1v1h-1zM212 467h1v1h-1zM213 468h1v1h-1zM217 471h1v1h-1zM218 472h1v1h-1zM219 473h1v1h-1zM223 477h1v1h-1zM224 478h1v1h-1zM224 479h1v1h-1zM227 483h1v1h-1zM228 484h1v1h-1zM228 485h1v1h-1zM231 489h1v1h-1zM232 490h1v1h-1zM232 491h1v1h-1zM234 495h1v1h-1zM235 496h1v1h-1zM236 497h1v1h-1zM238 501h1v1h-1zM239 502h1v1h-1zM239 503h1v1h-1zM241 507h1v1h-1zM242 508h1v1h-1zM243 509h1v1h-1zM245 513h1v1h-1zM246 514h1v1h-1zM247 515h1v1h-1zM250 519h1v1h-1zM251 520h1v1h-1zM252 521h1v1h-1zM256 524h1v1h-1zM257 525h1v1h-1zM258 526h1v1h-1zM261 530h1v1h-1zM261 531h1v1h-1zM261 532h1v1h-1zM263 536h1v1h-1zM264 537h1v1h-1zM264 538h1v1h-1zM266 542h1v1h-1zM267 543h1v1h-1zM267 544h1v1h-1zM269 548h1v1h-1zM269 549h1v1h-1zM270 550h1v1h-1zM271 554h1v1h-1zM272 555h1v1h-1zM272 556h1v1h-1zM274 560h1v1h-1zM275 561h1v1h-1zM275 562h1v1h-1zM279 566h1v1h-1zM280 565h1v1h-1zM281 564h1v1h-1zM285 561h1v1h-1zM285 560h1v1h-1zM286 559h1v1h-1zM289 555h1v1h-1zM290 554h1v1h-1zM290 553h1v1h-1zM293 549h1v1h-1zM294 548h1v1h-1zM294 547h1v1h-1zM297 543h1v1h-1zM298 542h1v1h-1zM299 541h1v1h-1zM303 538h1v1h-1zM304 537h1v1h-1zM305 536h1v1h-1zM309 532h1v1h-1zM309 531h1v1h-1zM310 530h1v1h-1zM313 526h1v1h-1zM314 525h1v1h-1zM315 524h1v1h-1zM317 520h1v1h-1zM317 519h1v1h-1zM318 518h1v1h-1zM320 514h1v1h-1zM321 513h1v1h-1zM321 512h1v1h-1zM323 508h1v1h-1zM324 507h1v1h-1zM324 506h1v1h-1zM327 502h1v1h-1zM328 501h1v1h-1zM329 500h1v1h-1zM333 499h1v1h-1zM334 498h1v1h-1zM335 498h1v1h-1zM339 500h1v1h-1zM340 501h1v1h-1zM341 502h1v1h-1zM344 506h1v1h-1zM345 507h1v1h-1zM345 508h1v1h-1zM349 512h1v1h-1zM349 513h1v1h-1zM350 514h1v1h-1zM353 518h1v1h-1zM354 519h1v1h-1zM355 520h1v1h-1zM359 524h1v1h-1zM360 524h1v1h-1zM361 524h1v1h-1zM365 525h1v1h-1zM366 526h1v1h-1zM367 526h1v1h-1zM371 526h1v1h-1zM372 526h1v1h-1zM373 526h1v1h-1zM377 526h1v1h-1zM378 526h1v1h-1zM379 526h1v1h-1zM383 527h1v1h-1zM384 528h1v1h-1zM385 529h1v1h-1zM389 531h1v1h-1zM390 532h1v1h-1zM391 532h1v1h-1zM395 536h1v1h-1zM396 537h1v1h-1zM397 538h1v1h-1zM401 540h1v1h-1zM402 541h1v1h-1zM403 541h1v1h-1zM407 539h1v1h-1zM408 538h1v1h-1zM409 537h1v1h-1zM411 533h1v1h-1zM412 532h1v1h-1zM412 531h1v1h-1zM414 527h1v1h-1zM415 526h1v1h-1zM415 525h1v1h-1zM417 521h1v1h-1zM418 520h1v1h-1zM418 519h1v1h-1zM422 515h1v1h-1zM423 514h1v1h-1zM424 514h1v1h-1zM428 512h1v1h-1zM429 512h1v1h-1zM430 512h1v1h-1zM434 514h1v1h-1zM435 514h1v1h-1zM436 514h1v1h-1zM440 516h1v1h-1zM441 515h1v1h-1zM442 514h1v1h-1zM446 512h1v1h-1zM447 511h1v1h-1zM448 510h1v1h-1zM451 506h1v1h-1zM452 505h1v1h-1zM453 504h1v1h-1zM456 500h1v1h-1zM457 499h1v1h-1zM458 498h1v1h-1zM462 495h1v1h-1zM463 494h1v1h-1zM464 493h1v1h-1zM468 489h1v1h-1zM469 488h1v1h-1zM469 487h1v1h-1zM472 483h1v1h-1zM473 482h1v1h-1zM473 481h1v1h-1zM476 477h1v1h-1zM476 476h1v1h-1zM477 475h1v1h-1zM479 471h1v1h-1zM480 470h1v1h-1zM480 469h1v1h-1zM483 465h1v1h-1zM484 464h1v1h-1zM485 463h1v1h-1zM489 462h1v1h-1zM490 463h1v1h-1zM491 463h1v1h-1zM495 464h1v1h-1zM496 465h1v1h-1zM497 466h1v1h-1zM501 469h1v1h-1zM501 470h1v1h-1zM502 471h1v1h-1zM505 475h1v1h-1zM505 476h1v1h-1zM506 477h1v1h-1zM508 481h1v1h-1zM509 482h1v1h-1zM509 483h1v1h-1zM512 487h1v1h-1zM512 488h1v1h-1zM513 489h1v1h-1zM515 493h1v1h-1zM516 494h1v1h-1zM516 495h1v1h-1zM518 499h1v1h-1zM519 500h1v1h-1zM520 501h1v1h-1zM522 505h1v1h-1zM522 506h1v1h-1zM523 507h1v1h-1zM526 511h1v1h-1zM526 512h1v1h-1zM527 513h1v1h-1zM530 517h1v1h-1zM531 518h1v1h-1zM532 519h1v1h-1zM534 523h1v1h-1zM534 524h1v1h-1zM535 525h1v1h-1zM538 529h1v1h-1zM539 530h1v1h-1zM540 531h1v1h-1zM543 535h1v1h-1zM544 536h1v1h-1zM545 537h1v1h-1zM548 540h1v1h-1zM549 541h1v1h-1zM550 542h1v1h-1zM554 544h1v1h-1zM555 544h1v1h-1zM556 544h1v1h-1zM560 546h1v1h-1zM561 547h1v1h-1zM562 548h1v1h-1zM566 550h1v1h-1zM567 551h1v1h-1zM568 551h1v1h-1zM572 553h1v1h-1zM573 553h1v1h-1zM574 553h1v1h-1zM578 553h1v1h-1zM579 553h1v1h-1zM580 553h1v1h-1zM584 555h1v1h-1zM585 556h1v1h-1zM586 557h1v1h-1zM590 558h1v1h-1zM591 558h1v1h-1zM592 558h1v1h-1zM596 556h1v1h-1zM597 555h1v1h-1zM597 554h1v1h-1zM600 550h1v1h-1zM601 549h1v1h-1zM601 548h1v1h-1zM603 544h1v1h-1zM603 543h1v1h-1zM604 542h1v1h-1zM605 538h1v1h-1zM605 537h1v1h-1zM606 536h1v1h-1zM607 532h1v1h-1zM607 531h1v1h-1zM608 530h1v1h-1zM610 526h1v1h-1zM611 525h1v1h-1zM611 524h1v1h-1zM613 520h1v1h-1zM614 519h1v1h-1zM614 518h1v1h-1zM618 515h1v1h-1zM619 515h1v1h-1zM620 515h1v1h-1zM624 514h1v1h-1zM625 514h1v1h-1zM626 513h1v1h-1zM630 515h1v1h-1zM631 515h1v1h-1zM632 515h1v1h-1zM636 515h1v1h-1zM637 515h1v1h-1zM638 514h1v1h-1zM642 515h1v1h-1zM643 515h1v1h-1zM644 515h1v1h-1zM648 518h1v1h-1zM649 519h1v1h-1zM650 519h1v1h-1zM654 523h1v1h-1zM655 524h1v1h-1zM656 525h1v1h-1zM658 529h1v1h-1zM659 530h1v1h-1zM660 531h1v1h-1zM663 535h1v1h-1zM664 536h1v1h-1zM665 537h1v1h-1zM668 541h1v1h-1zM669 542h1v1h-1zM670 543h1v1h-1zM674 542h1v1h-1zM675 542h1v1h-1zM676 541h1v1h-1zM679 537h1v1h-1zM680 536h1v1h-1zM680 535h1v1h-1zM683 531h1v1h-1zM684 530h1v1h-1zM685 529h1v1h-1zM688 526h1v1h-1zM689 525h1v1h-1zM690 524h1v1h-1zM694 525h1v1h-1zM695 525h1v1h-1zM696 526h1v1h-1zM699 530h1v1h-1zM700 531h1v1h-1zM700 532h1v1h-1zM703 536h1v1h-1zM704 537h1v1h-1zM704 538h1v1h-1zM707 542h1v1h-1zM708 542h1v1h-1zM709 543h1v1h-1zM713 545h1v1h-1zM714 546h1v1h-1zM715 546h1v1h-1zM719 545h1v1h-1zM720 544h1v1h-1zM721 543h1v1h-1zM724 539h1v1h-1zM725 538h1v1h-1zM725 537h1v1h-1zM728 533h1v1h-1zM728 532h1v1h-1zM729 531h1v1h-1zM732 527h1v1h-1zM732 526h1v1h-1zM733 525h1v1h-1z" fill="#FF0000" shape-rendering="crispEdges"/>
<g shape-rendering="crispEdges">
<rect x="2" y="2" width="759" height="1" fill="#000"/>
<rect x="2" y="2" width="1" height="430" fill="#000"/>
<rect x="2" y="431" width="759" height="1" fill="#000"/>
<rect x="2" y="433" width="759" height="1" fill="#000"/>
<rect x="2" y="433" width="1" height="150" fill="#000"/>
<rect x="2" y="582" width="760" height="1" fill="#000"/>
<rect x="760" y="2" width="1" height="581" fill="#000"/>
<rect x="761" y="33" width="2" height="1" fill="#000"/>
<rect x="761" y="69" width="2" height="1" fill="#000"/>
<rect x="761" y="104" width="2" height="1" fill="#000"/>
<rect x="761" y="140" width="2" height="1" fill="#000"/>
<rect x="761" y="175" width="2" height="1" fill="#000"/>
<rect x="761" y="211" width="2" height="1" fill="#000"/>
<rect x="761" y="247" width="2" height="1" fill="#000"/>
<rect x="761" y="282" width="2" height="1" fill="#000"/>
<rect x="761" y="318" width="2" height="1" fill="#000"/>
<rect x="761" y="353" width="2" height="1" fill="#000"/>
<rect x="761" y="389" width="2" height="1" fill="#000"/>
<rect x="761" y="425" width="2" height="1" fill="#000"/>
<rect x="761" y="435" width="2" height="1" fill="#000"/>
<rect x="761" y="509" width="2" height="1" fill="#000"/>
<rect x="761" y="581" width="2" height="1" fill="#000"/>
<rect x="3" y="583" width="1" height="3" fill="#000"/>
<rect x="67" y="583" width="1" height="3" fill="#000"/>
<rect x="131" y="583" width="1" height="3" fill="#000"/>
<rect x="195" y="583" width="1" height="3" fill="#000"/>
<rect x="259" y="583" width="1" height="3" fill="#000"/>
<rect x="323" y="583" width="1" height="3" fill="#000"/>
<rect x="387" y="583" width="1" height="3" fill="#000"/>
<rect x="451" y="583" width="1" height="3" fill="#000"/>
<rect x="515" y="583" width="1" height="3" fill="#000"/>
<rect x="579" y="583" width="1" height="3" fill="#000"/>
<rect x="643" y="583" width="1" height="3" fill="#000"/>
<rect x="707" y="583" width="1" height="3" fill="#000"/>
<rect x="6" y="9" width="7" height="1" fill="#000"/>
<rect x="7" y="10" width="5" height="1" fill="#000"/>
<rect x="8" y="11" width="3" height="1" fill="#000"/>
<rect x="9" y="12" width="1" height="1" fill="#000"/>
</g>
<text x="18" y="14" textLength="50.5" lengthAdjust="spacingAndGlyphs">USDJPY,H1</text>
<text x="74.6" y="14" textLength="28" lengthAdjust="spacingAndGlyphs">117.42</text>
<text x="105.85" y="14" textLength="28" lengthAdjust="spacingAndGlyphs">117.43</text>
<text x="137.1" y="14" textLength="28" lengthAdjust="spacingAndGlyphs">117.28</text>
<text x="168.35" y="14" textLength="28" lengthAdjust="spacingAndGlyphs">117.36</text>
<text x="766" y="36" textLength="28" lengthAdjust="spacingAndGlyphs">118.95</text>
<text x="766" y="72" textLength="28" lengthAdjust="spacingAndGlyphs">118.65</text>
<text x="766" y="107" textLength="28" lengthAdjust="spacingAndGlyphs">118.35</text>
<text x="766" y="143" textLength="28" lengthAdjust="spacingAndGlyphs">118.05</text>
<text x="766" y="178" textLength="28" lengthAdjust="spacingAndGlyphs">117.75</text>
<text x="766" y="214" textLength="28" lengthAdjust="spacingAndGlyphs">117.45</text>
<text x="766" y="250" textLength="28" lengthAdjust="spacingAndGlyphs">117.15</text>
<text x="766" y="285" textLength="28" lengthAdjust="spacingAndGlyphs">116.85</text>
<text x="766" y="321" textLength="28" lengthAdjust="spacingAndGlyphs">116.55</text>
<text x="766" y="356" textLength="28" lengthAdjust="spacingAndGlyphs">116.25</text>
<text x="766" y="392" textLength="28" lengthAdjust="spacingAndGlyphs">115.95</text>
<text x="766" y="428" textLength="28" lengthAdjust="spacingAndGlyphs">115.65</text>
<text x="763.7" y="444" textLength="19" lengthAdjust="spacingAndGlyphs">0.49</text>
<text x="763.7" y="512" textLength="19" lengthAdjust="spacingAndGlyphs">0.00</text>
<text x="764" y="579" textLength="26.5" lengthAdjust="spacingAndGlyphs">-0.476</text>
<text x="7" y="446" textLength="61" lengthAdjust="spacingAndGlyphs">MACD(5,34,5)</text>
<text x="71.5" y="446" textLength="25.5" lengthAdjust="spacingAndGlyphs">-0.035</text>
<text x="100.5" y="446" textLength="25.5" lengthAdjust="spacingAndGlyphs">-0.078</text>
<text x="7.1" y="578" textLength="232.5" lengthAdjust="spacingAndGlyphs">MetaTrader, © 2001-2014, MetaQuotes Software Corp.</text>
<text x="2.4" y="595" textLength="49.5" lengthAdjust="spacingAndGlyphs">22 Jan 2015</text>
<text x="66.4" y="595" textLength="51.7" lengthAdjust="spacingAndGlyphs">23 Jan 13:00</text>
<text x="130.4" y="595" textLength="51.7" lengthAdjust="spacingAndGlyphs">26 Jan 06:00</text>
<text x="194.4" y="595" textLength="51.7" lengthAdjust="spacingAndGlyphs">26 Jan 22:00</text>
<text x="258.4" y="595" textLength="51.7" lengthAdjust="spacingAndGlyphs">27 Jan 14:00</text>
<text x="322.4" y="595" textLength="51.7" lengthAdjust="spacingAndGlyphs">28 Jan 06:00</text>
<text x="386.4" y="595" textLength="51.7" lengthAdjust="spacingAndGlyphs">28 Jan 22:00</text>
<text x="450.4" y="595" textLength="51.7" lengthAdjust="spacingAndGlyphs">29 Jan 14:00</text>
<text x="514.4" y="595" textLength="51.7" lengthAdjust="spacingAndGlyphs">30 Jan 06:00</text>
<text x="578.4" y="595" textLength="51.7" lengthAdjust="spacingAndGlyphs">30 Jan 22:00</text>
<text x="642.4" y="595" textLength="49.5" lengthAdjust="spacingAndGlyphs">2 Feb 15:00</text>
<text x="706.4" y="595" textLength="49.5" lengthAdjust="spacingAndGlyphs">3 Feb 07:00</text>
<g shape-rendering="crispEdges">
<rect x="762" y="38" width="36" height="11" fill="#FF0000"/>
<rect x="762" y="83" width="36" height="11" fill="#FF0000"/>
<rect x="762" y="176" width="36" height="11" fill="#FF0000"/>
<rect x="762" y="275" width="36" height="11" fill="#FF0000"/>
<rect x="762" y="396" width="36" height="11" fill="#FF0000"/>
<rect x="762" y="216" width="36" height="11" fill="#000"/>
</g>
<text x="766" y="47" textLength="28" lengthAdjust="spacingAndGlyphs" class="w">118.86</text>
<text x="766" y="92" textLength="28" lengthAdjust="spacingAndGlyphs" class="w">118.48</text>
<text x="766" y="185" textLength="28" lengthAdjust="spacingAndGlyphs" class="w">117.70</text>
<text x="766" y="284" textLength="28" lengthAdjust="spacingAndGlyphs" class="w">116.86</text>
<text x="766" y="405" textLength="28" lengthAdjust="spacingAndGlyphs" class="w">115.84</text>
<text x="766" y="225" textLength="28" lengthAdjust="spacingAndGlyphs" class="w">117.36</text>
</svg>
</body></html>
